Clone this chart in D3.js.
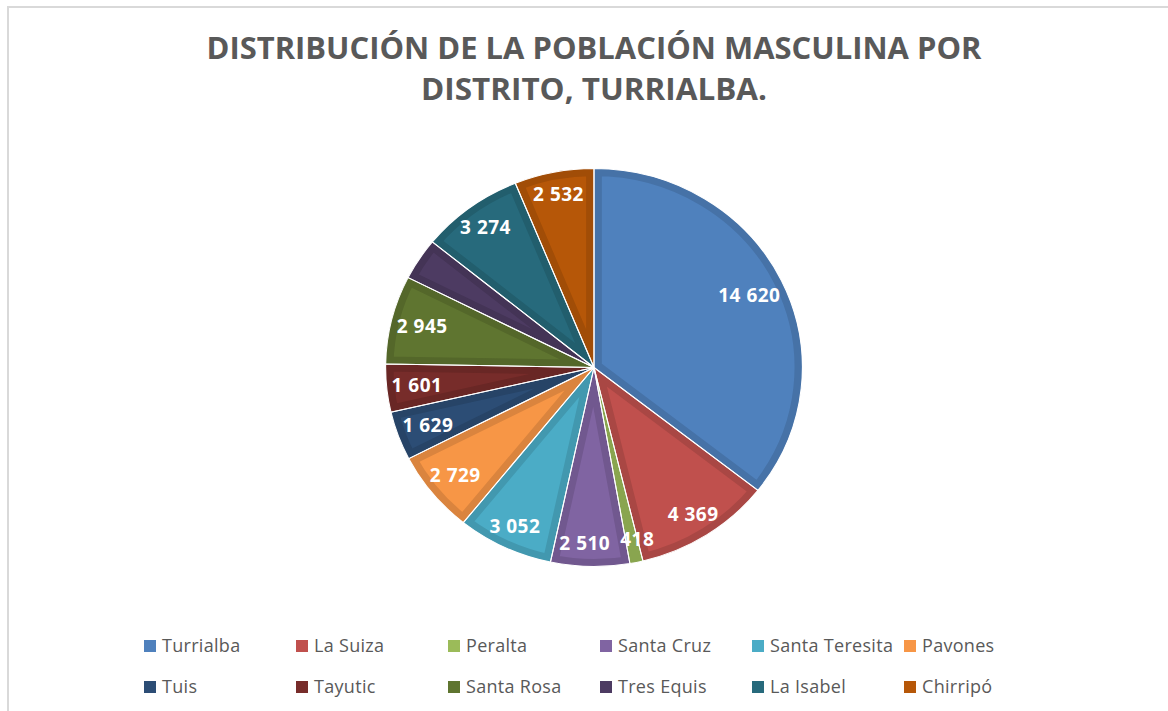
<!DOCTYPE html>
<html>
<head>
<meta charset="utf-8">
<script src="https://cdn.jsdelivr.net/npm/d3@7"></script>
<style>
  html, body { margin: 0; padding: 0; background: #fff; }
  svg { display: block; }
</style>
</head>
<body>
<svg id="chart"></svg>
<script>
const [w, h] = [1168, 711];

// data
const districts = ['Turrialba', 'La Suiza', 'Peralta', 'Santa Cruz', 'Santa Teresita', 'Pavones',
                   'Tuis', 'Tayutic', 'Santa Rosa', 'Tres Equis', 'La Isabel', 'Chirripó'];
const men = [14620, 4369, 418, 2510, 3052, 2729, 1629, 1601, 2945, 1400, 3274, 2532];
const colors = ['#4f81bd', '#c0504d', '#9bbb59', '#8064a2', '#4bacc6', '#f79646',
                '#2c4d75', '#772c2a', '#5f7530', '#4d3b62', '#276a7c', '#b65708'];
const hiddenLabels = ['Tres Equis'];
const titleLines = ['DISTRIBUCIÓN DE LA POBLACIÓN MASCULINA POR', 'DISTRITO, TURRIALBA.'];

const data = districts.map((d, i) => ({name: d, value: men[i], color: colors[i]}));

const fmt = d3.formatLocale({decimal: ',', thousands: ' ', grouping: [3], currency: ['', '']}).format(',d');

const svg = d3.select('#chart').attr('width', w).attr('height', h);

// frame
svg.append('rect')
    .attr('x', 8).attr('y', 7)
    .attr('width', w + 20).attr('height', h + 20)
    .attr('fill', '#fff')
    .attr('stroke', '#d9d9d9')
    .attr('stroke-width', 2);

// title
svg.selectAll('text.title')
    .data(titleLines)
    .enter()
    .append('text')
        .attr('class', 'title')
        .attr('x', 594)
        .attr('y', (d, i) => 59 + i * 41)
        .attr('text-anchor', 'middle')
        .attr('textLength', (d, i) => i === 0 ? 775 : 346)
        .attr('lengthAdjust', 'spacingAndGlyphs')
        .style('font-family', '"Open Sans", sans-serif')
        .style('font-weight', 'bold')
        .style('font-size', '31px')
        .attr('fill', '#595959')
        .text(d => d);

// pie
const [cx, cy, r, sx] = [594, 367.5, 199, 1.047];

const pie = d3.pie().sort(null).value(d => d.value);
const arc = d3.arc().innerRadius(0).outerRadius(r);
const arcs = pie(data);

const defs = svg.append('defs');
defs.selectAll('clipPath')
    .data(arcs)
    .enter()
    .append('clipPath')
        .attr('id', (d, i) => 'clip' + i)
    .append('path')
        .attr('d', arc);

const pieG = svg.append('g')
    .attr('transform', `translate(${cx}, ${cy}) scale(${sx}, 1)`);

pieG.selectAll('path.slice')
    .data(arcs)
    .enter()
    .append('path')
        .attr('class', 'slice')
        .attr('d', arc)
        .attr('fill', d => d.data.color)
        .attr('stroke', d => d3.color(d.data.color).darker(0.35))
        .attr('stroke-width', 15)
        .attr('clip-path', (d, i) => `url(#clip${i})`);

pieG.selectAll('path.edge')
    .data(arcs)
    .enter()
    .append('path')
        .attr('class', 'edge')
        .attr('d', arc)
        .attr('fill', 'none')
        .attr('stroke', '#fff')
        .attr('stroke-width', 1);

// data labels: inside end, pulled in so the text box stays inside the pie
const labelR = 176, maxR = 195, capH = 14;
const labels = svg.selectAll('text.label')
    .data(arcs.filter(d => !hiddenLabels.includes(d.data.name)))
    .enter()
    .append('text')
        .attr('class', 'label')
        .attr('dy', '0.35em')
        .attr('text-anchor', 'middle')
        .style('font-family', '"Open Sans", sans-serif')
        .style('font-weight', 'bold')
        .style('font-size', '19px')
        .style('letter-spacing', '0.5px')
        .attr('fill', '#fff')
        .text(d => fmt(d.data.value));

const boxes = [];
labels.each(function(d) {
    const tw = this.getComputedTextLength();
    const a = (d.startAngle + d.endAngle) / 2;
    let dist = labelR, x, y;
    for (; dist > 60; dist -= 1) {
        x = cx + sx * dist * Math.sin(a);
        y = cy - dist * Math.cos(a);
        const far = d3.max([-1, 1], ex => d3.max([-1, 1], ey =>
            Math.hypot((x + ex * tw / 2 - cx) / sx, y + ey * capH / 2 - cy)));
        if (far <= maxR) break;
    }
    boxes.push({el: this, x, y, tw});
});
// nudge neighbours that collide apart horizontally
for (let i = 1; i < boxes.length; i++) {
    const p = boxes[i - 1], q = boxes[i];
    const overlapX = (p.tw + q.tw) / 2 + 10 - Math.abs(p.x - q.x);
    if (overlapX > 0 && Math.abs(p.y - q.y) < capH + 2) {
        const s = p.x < q.x ? 1 : -1;
        p.x -= s * overlapX / 2;
        q.x += s * overlapX / 2;
    }
}
boxes.forEach(b => d3.select(b.el).attr('x', b.x).attr('y', b.y));

// legend
const cols = 6;
const legend = svg.selectAll('g.legend')
    .data(data)
    .enter()
    .append('g')
        .attr('class', 'legend')
        .attr('transform', (d, i) => `translate(${144 + (i % cols) * 152}, ${640 + Math.floor(i / cols) * 41})`);

legend.append('rect')
    .attr('width', 12)
    .attr('height', 12)
    .attr('fill', d => d.color);

legend.append('text')
    .attr('x', 18)
    .attr('y', 12)
    .style('font-family', '"Open Sans", sans-serif')
    .style('font-size', '18px')
    .style('letter-spacing', '0.3px')
    .attr('fill', '#595959')
    .text(d => d.name);
</script>
</body>
</html>
